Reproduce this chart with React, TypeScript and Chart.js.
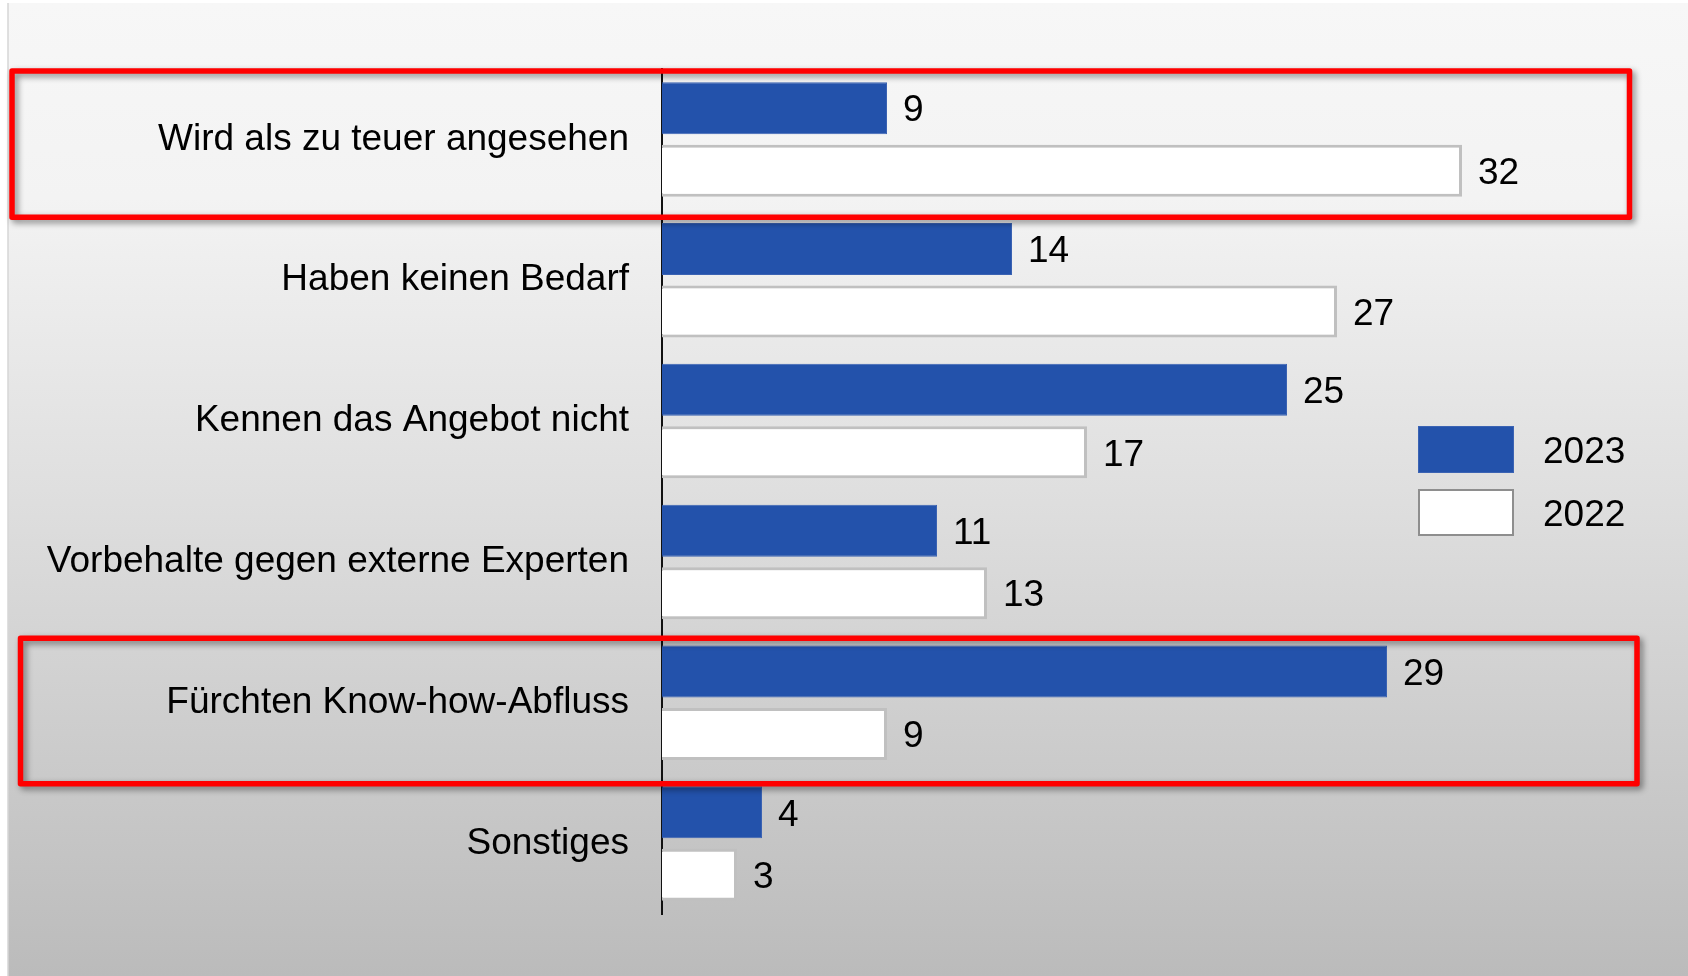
import React, { useEffect, useRef } from 'react';
import { Chart, registerables } from 'chart.js';

Chart.register(...registerables);

const categories = [
  'Wird als zu teuer angesehen',
  'Haben keinen Bedarf',
  'Kennen das Angebot nicht',
  'Vorbehalte gegen externe Experten',
  'Fürchten Know-how-Abfluss',
  'Sonstiges',
];
const seriesLabels = ['2023', '2022'];
const values2023 = [9, 14, 25, 11, 29, 4];
const values2022 = [32, 27, 17, 13, 9, 3];
const highlightedCategories = [0, 4];

const W = 1688;
const H = 976;
const FONT = "'Liberation Sans', Arial, Helvetica, sans-serif";

const backgroundPlugin = {
  id: 'panelBackground',
  beforeDraw(chart: any) {
    const ctx = chart.ctx;
    ctx.save();
    ctx.fillStyle = '#ffffff';
    ctx.fillRect(0, 0, W, H);
    const g = ctx.createLinearGradient(0, 3, 0, H);
    g.addColorStop(0, '#f7f7f7');
    g.addColorStop(0.2, '#f3f3f3');
    g.addColorStop(0.5, '#dfdfdf');
    g.addColorStop(1, '#bbbbbb');
    ctx.fillStyle = g;
    ctx.fillRect(8, 3, W - 8, H - 3);
    ctx.strokeStyle = '#d6d6d6';
    ctx.lineWidth = 1.5;
    ctx.beginPath();
    ctx.moveTo(8, 3);
    ctx.lineTo(8, H);
    ctx.stroke();
    ctx.restore();
  },
};

const valueLabelPlugin = {
  id: 'valueLabels',
  afterDatasetsDraw(chart: any) {
    const ctx = chart.ctx;
    ctx.save();
    ctx.font = `37px ${FONT}`;
    ctx.fillStyle = '#000000';
    ctx.textAlign = 'left';
    ctx.textBaseline = 'middle';
    chart.data.datasets.forEach((ds: any, di: number) => {
      const meta = chart.getDatasetMeta(di);
      meta.data.forEach((bar: any, i: number) => {
        ctx.fillText(String(ds.data[i]), bar.x + 16, bar.y + 3);
      });
    });
    ctx.restore();
  },
};

const highlightPlugin = {
  id: 'highlightBoxes',
  afterDraw(chart: any) {
    const ctx = chart.ctx;
    const y = chart.scales.y;
    const half = (y.getPixelForValue(1) - y.getPixelForValue(0)) / 2;
    const boxes = [
      { x1: 12, x2: 1629.5, dTop: 2, dBottom: 7.5 },
      { x1: 20.5, x2: 1637, dTop: 6, dBottom: 10.5 },
    ];
    ctx.save();
    highlightedCategories.forEach((ci, k) => {
      const b = boxes[k];
      const c = y.getPixelForValue(ci);
      const top = c - half + b.dTop;
      const bottom = c + half + b.dBottom;
      ctx.shadowColor = 'rgba(0,0,0,0.45)';
      ctx.shadowBlur = 6;
      ctx.shadowOffsetX = 3;
      ctx.shadowOffsetY = 3;
      ctx.strokeStyle = '#ff0000';
      ctx.lineWidth = 5.5;
      ctx.lineJoin = 'round';
      ctx.strokeRect(b.x1, top, b.x2 - b.x1, bottom - top);
    });
    ctx.restore();
  },
};

const legendPlugin = {
  id: 'customLegend',
  afterDraw(chart: any) {
    const ctx = chart.ctx;
    ctx.save();
    chart.data.datasets.forEach((ds: any, i: number) => {
      const bx = 1418;
      const by = 426 + i * 63;
      const bw = 96;
      const bh = 47;
      ctx.fillStyle = ds.backgroundColor;
      ctx.fillRect(bx, by, bw, bh);
      ctx.strokeStyle = i === 0 ? '#3b63b3' : '#8e8e8e';
      ctx.lineWidth = i === 0 ? 1 : 2;
      ctx.strokeRect(bx + ctx.lineWidth / 2, by + ctx.lineWidth / 2, bw - ctx.lineWidth, bh - ctx.lineWidth);
      ctx.font = `37px ${FONT}`;
      ctx.fillStyle = '#000000';
      ctx.textAlign = 'left';
      ctx.textBaseline = 'middle';
      ctx.fillText(ds.label, 1543, by + bh / 2 + 3);
    });
    ctx.restore();
  },
};

export default function App() {
  const canvasRef = useRef<HTMLCanvasElement | null>(null);

  useEffect(() => {
    if (!canvasRef.current) return;
    const chart = new Chart(canvasRef.current, {
      type: 'bar',
      data: {
        labels: categories,
        datasets: [
          {
            label: seriesLabels[0],
            data: values2023,
            backgroundColor: '#2352ab',
            borderColor: '#3a62b2',
            borderWidth: 1,
            barPercentage: 0.832,
            categoryPercentage: 0.887,
          },
          {
            label: seriesLabels[1],
            data: values2022,
            backgroundColor: '#ffffff',
            borderColor: '#c0c0c0',
            borderWidth: 3,
            barPercentage: 0.832,
            categoryPercentage: 0.887,
          },
        ],
      },
      options: {
        indexAxis: 'y',
        responsive: false,
        animation: false,
        layout: { padding: { left: 0, right: 26, top: 69, bottom: 62 } },
        plugins: {
          legend: { display: false },
          tooltip: { enabled: false },
          title: { display: false },
        },
        scales: {
          x: {
            display: false,
            min: 0,
            max: 40,
          },
          y: {
            grid: { display: false, drawTicks: false, tickLength: 0 },
            border: { display: true, color: '#111111', width: 2 },
            ticks: {
              autoSkip: false,
              padding: 33,
              color: '#000000',
              font: { family: FONT, size: 37 },
            },
            afterFit(scale: any) {
              scale.width = 662;
            },
          },
        },
      },
      plugins: [backgroundPlugin, valueLabelPlugin, highlightPlugin, legendPlugin],
    } as any);
    return () => chart.destroy();
  }, []);

  return (
    <div style={{ position: 'fixed', left: 0, top: 0, width: W, height: H }}>
      <canvas ref={canvasRef} width={W} height={H} style={{ display: 'block', width: W, height: H }} />
    </div>
  );
}
